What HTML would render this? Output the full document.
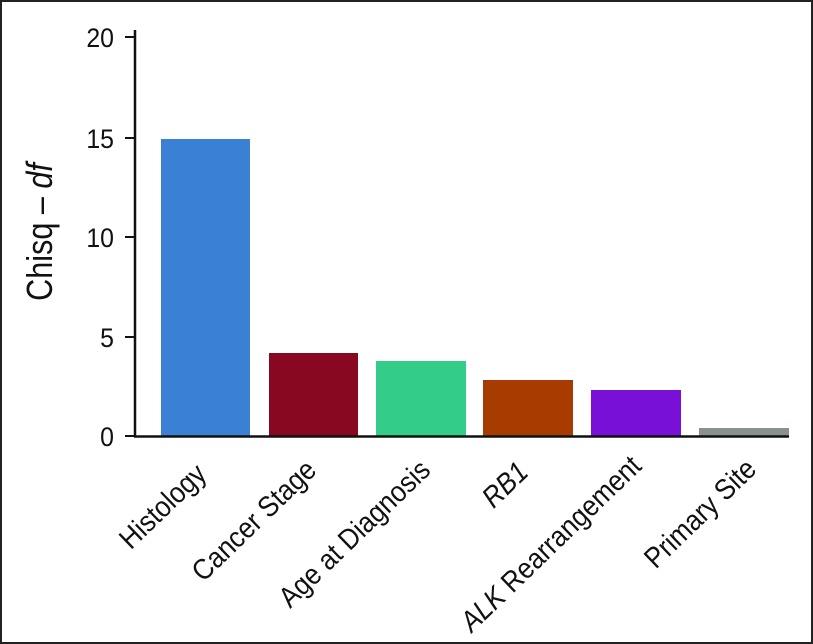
<!DOCTYPE html>
<html><head><style>
html,body{margin:0;padding:0;background:#fff;}
svg{display:block;font-family:"Liberation Sans",Arial,sans-serif;}
</style></head><body>
<svg width="813" height="644" viewBox="0 0 813 644" xmlns="http://www.w3.org/2000/svg">
<rect x="1" y="1" width="811" height="642" fill="#fff" stroke="#222" stroke-width="2"/>
<rect x="161" y="139" width="89" height="297" fill="#3a80d4"/>
<rect x="269" y="353" width="89" height="83" fill="#880822"/>
<rect x="376" y="361" width="90" height="75" fill="#33cc88"/>
<rect x="483" y="380" width="90" height="56" fill="#a83c00"/>
<rect x="591" y="390" width="90" height="46" fill="#7810d8"/>
<rect x="699" y="428" width="90" height="8" fill="#889090"/>
<line x1="135" y1="30" x2="135" y2="437" stroke="#111" stroke-width="2.5"/>
<line x1="134" y1="436.5" x2="789" y2="436.5" stroke="#111" stroke-width="2.5"/>
<g stroke="#111" stroke-width="2">
<line x1="125" y1="37" x2="135" y2="37"/>
<line x1="125" y1="138" x2="135" y2="138"/>
<line x1="125" y1="237" x2="135" y2="237"/>
<line x1="125" y1="337" x2="135" y2="337"/>
<line x1="125" y1="436" x2="135" y2="436"/>
</g>
<g font-size="27" fill="#111" text-anchor="end">
<text transform="translate(114,47) scale(0.92,1)">20</text>
<text transform="translate(114,148) scale(0.92,1)">15</text>
<text transform="translate(114,247) scale(0.92,1)">10</text>
<text transform="translate(114,347) scale(0.92,1)">5</text>
<text transform="translate(114,446) scale(0.92,1)">0</text>
</g>
<text transform="translate(52,232) rotate(-90) scale(0.85,1)" font-size="36" fill="#111" text-anchor="middle">Chisq – <tspan font-style="italic">df</tspan></text>
<g font-size="29" fill="#111" text-anchor="end">
<text transform="translate(208,476) rotate(-44) scale(0.9,1)">Histology</text>
<text transform="translate(318,472) rotate(-44) scale(0.9,1)">Cancer Stage</text>
<text transform="translate(432,472) rotate(-44) scale(0.9,1)">Age at Diagnosis</text>
<text transform="translate(530,474) rotate(-44) scale(0.9,1)" font-style="italic">RB1</text>
<text transform="translate(643,468) rotate(-44) scale(0.9,1)"><tspan font-style="italic">ALK</tspan> Rearrangement</text>
<text transform="translate(758,471) rotate(-44) scale(0.9,1)">Primary Site</text>
</g>
</svg>
</body></html>
